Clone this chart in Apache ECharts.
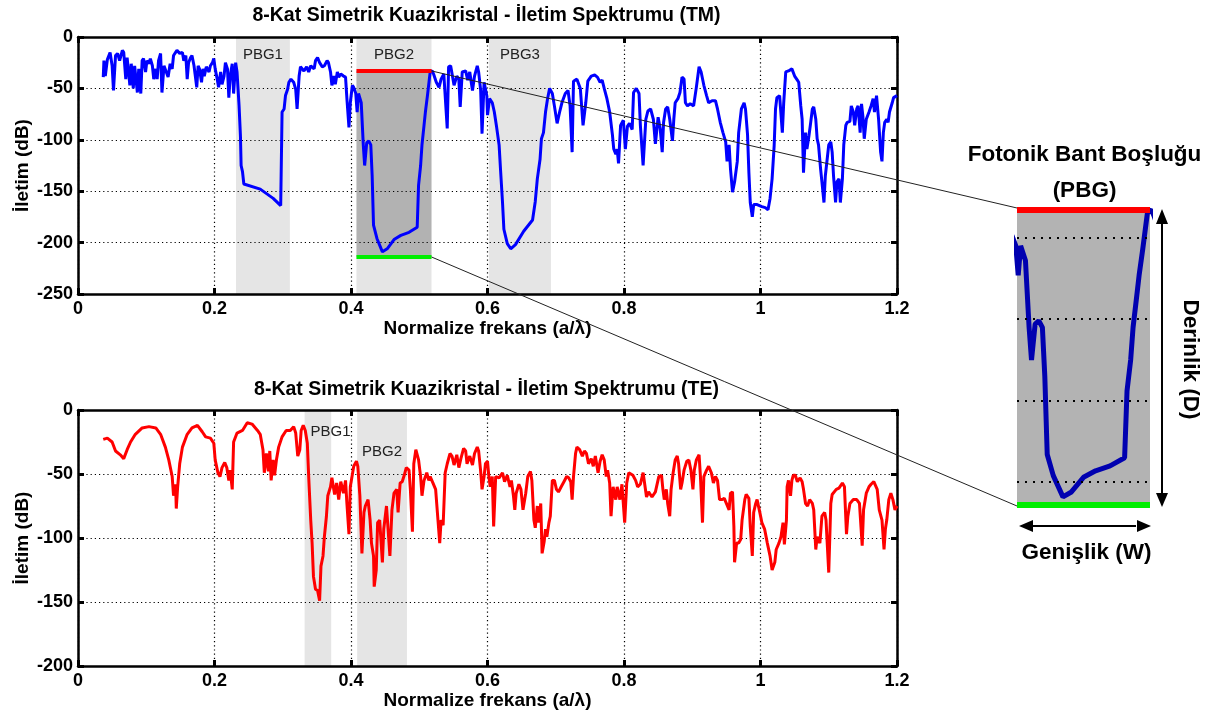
<!DOCTYPE html>
<html>
<head>
<meta charset="utf-8">
<script src="https://cdn.jsdelivr.net/npm/echarts@6/dist/echarts.min.js"></script>
<style>
html,body{margin:0;padding:0;background:#fff;}
#c{width:1217px;height:717px;}
</style>
</head>
<body>
<div id="c"></div>
<script>
// ---- data ----
const tmSpectrum = [[0.037,-39],[0.038,-23],[0.040,-38],[0.043,-22],[0.047,-15],[0.050,-28],[0.052,-52],[0.055,-18],[0.058,-16],[0.061,-23],[0.065,-13],[0.067,-15],[0.070,-41],[0.072,-20],[0.076,-47],[0.078,-26],[0.081,-50],[0.083,-28],[0.087,-54],[0.089,-31],[0.092,-55],[0.094,-23],[0.096,-21],[0.099,-34],[0.101,-23],[0.104,-26],[0.106,-21],[0.109,-28],[0.111,-41],[0.114,-31],[0.116,-41],[0.118,-23],[0.121,-16],[0.123,-54],[0.126,-28],[0.128,-29],[0.132,-39],[0.135,-26],[0.138,-31],[0.140,-18],[0.143,-15],[0.145,-13],[0.149,-16],[0.153,-15],[0.155,-23],[0.158,-18],[0.160,-41],[0.162,-25],[0.165,-20],[0.167,-18],[0.170,-28],[0.174,-49],[0.176,-28],[0.178,-31],[0.181,-44],[0.183,-31],[0.185,-38],[0.188,-29],[0.192,-34],[0.194,-28],[0.197,-25],[0.199,-21],[0.201,-31],[0.204,-41],[0.206,-49],[0.209,-34],[0.211,-46],[0.214,-38],[0.216,-25],[0.219,-31],[0.221,-59],[0.223,-38],[0.226,-26],[0.228,-55],[0.231,-25],[0.233,-34],[0.236,-67],[0.238,-96],[0.239,-125],[0.241,-131],[0.243,-143],[0.267,-148],[0.286,-157],[0.297,-164],[0.299,-73],[0.302,-70],[0.304,-57],[0.307,-51],[0.309,-44],[0.312,-41],[0.316,-44],[0.319,-51],[0.321,-70],[0.324,-38],[0.326,-29],[0.331,-33],[0.335,-29],[0.338,-34],[0.341,-28],[0.346,-31],[0.348,-23],[0.351,-20],[0.354,-25],[0.358,-29],[0.361,-28],[0.365,-23],[0.367,-25],[0.370,-34],[0.372,-47],[0.375,-38],[0.377,-46],[0.380,-34],[0.382,-39],[0.385,-36],[0.389,-38],[0.392,-39],[0.394,-60],[0.397,-88],[0.399,-64],[0.402,-47],[0.404,-49],[0.407,-55],[0.409,-73],[0.411,-55],[0.415,-64],[0.418,-105],[0.420,-125],[0.423,-103],[0.426,-101],[0.429,-105],[0.431,-135],[0.433,-183],[0.438,-196],[0.446,-209],[0.453,-206],[0.463,-197],[0.473,-193],[0.485,-190],[0.497,-185],[0.499,-144],[0.502,-125],[0.504,-105],[0.507,-86],[0.509,-73],[0.512,-57],[0.516,-34],[0.519,-33],[0.521,-36],[0.525,-44],[0.529,-49],[0.532,-41],[0.536,-36],[0.541,-89],[0.543,-29],[0.546,-28],[0.551,-47],[0.555,-38],[0.558,-41],[0.560,-68],[0.563,-34],[0.568,-33],[0.571,-42],[0.574,-34],[0.578,-52],[0.581,-38],[0.585,-28],[0.587,-34],[0.590,-52],[0.592,-94],[0.595,-44],[0.599,-57],[0.600,-76],[0.603,-60],[0.607,-64],[0.610,-73],[0.613,-86],[0.617,-105],[0.619,-128],[0.622,-161],[0.624,-187],[0.629,-201],[0.634,-206],[0.641,-202],[0.653,-189],[0.666,-178],[0.670,-160],[0.673,-138],[0.677,-119],[0.679,-99],[0.682,-93],[0.685,-73],[0.688,-60],[0.691,-50],[0.695,-55],[0.698,-67],[0.702,-84],[0.706,-72],[0.709,-64],[0.714,-55],[0.718,-52],[0.721,-67],[0.724,-112],[0.726,-43],[0.731,-41],[0.736,-50],[0.740,-86],[0.744,-64],[0.747,-43],[0.752,-38],[0.757,-37],[0.761,-39],[0.765,-44],[0.768,-42],[0.771,-50],[0.775,-60],[0.779,-73],[0.783,-95],[0.785,-109],[0.788,-114],[0.790,-109],[0.792,-123],[0.795,-86],[0.799,-81],[0.802,-109],[0.805,-87],[0.808,-84],[0.812,-90],[0.814,-54],[0.818,-50],[0.822,-55],[0.824,-86],[0.828,-125],[0.832,-80],[0.835,-72],[0.839,-70],[0.843,-80],[0.846,-104],[0.850,-78],[0.853,-89],[0.856,-112],[0.858,-83],[0.861,-70],[0.864,-68],[0.867,-80],[0.871,-101],[0.873,-80],[0.875,-64],[0.879,-60],[0.882,-54],[0.885,-39],[0.888,-41],[0.890,-64],[0.893,-67],[0.897,-65],[0.902,-67],[0.906,-49],[0.910,-29],[0.913,-34],[0.917,-47],[0.921,-57],[0.924,-64],[0.929,-62],[0.934,-62],[0.937,-70],[0.941,-83],[0.945,-93],[0.949,-102],[0.951,-121],[0.954,-105],[0.956,-128],[0.959,-151],[0.962,-141],[0.966,-121],[0.968,-93],[0.972,-70],[0.976,-64],[0.978,-70],[0.981,-95],[0.983,-132],[0.985,-161],[0.988,-175],[0.990,-163],[0.995,-163],[1.002,-165],[1.007,-166],[1.011,-168],[1.014,-157],[1.017,-138],[1.020,-106],[1.022,-70],[1.024,-59],[1.028,-57],[1.032,-93],[1.034,-64],[1.037,-34],[1.041,-33],[1.046,-31],[1.050,-38],[1.054,-42],[1.056,-44],[1.059,-67],[1.061,-80],[1.063,-132],[1.066,-93],[1.068,-109],[1.071,-96],[1.073,-86],[1.076,-70],[1.078,-68],[1.081,-80],[1.083,-99],[1.085,-105],[1.088,-128],[1.090,-141],[1.093,-161],[1.095,-135],[1.098,-117],[1.100,-105],[1.103,-102],[1.105,-112],[1.107,-135],[1.110,-161],[1.112,-141],[1.115,-138],[1.117,-161],[1.120,-138],[1.122,-105],[1.125,-86],[1.127,-83],[1.131,-82],[1.133,-67],[1.136,-73],[1.138,-86],[1.141,-70],[1.143,-67],[1.146,-93],[1.148,-65],[1.150,-77],[1.152,-99],[1.155,-80],[1.159,-73],[1.162,-67],[1.165,-60],[1.167,-73],[1.170,-57],[1.173,-80],[1.176,-112],[1.178,-121],[1.180,-93],[1.182,-83],[1.185,-80],[1.187,-83],[1.189,-73],[1.193,-64],[1.195,-59],[1.200,-57]];

const teSpectrum = [[0.037,-23],[0.043,-22],[0.050,-25],[0.055,-32],[0.062,-35],[0.067,-38],[0.072,-31],[0.077,-25],[0.084,-19],[0.094,-14],[0.104,-13],[0.114,-14],[0.121,-19],[0.128,-29],[0.133,-39],[0.138,-52],[0.140,-67],[0.143,-58],[0.144,-77],[0.146,-60],[0.149,-42],[0.153,-29],[0.160,-19],[0.167,-14],[0.175,-12],[0.182,-17],[0.187,-21],[0.194,-22],[0.199,-26],[0.201,-39],[0.205,-49],[0.208,-52],[0.211,-45],[0.215,-41],[0.218,-45],[0.221,-55],[0.223,-47],[0.226,-62],[0.228,-25],[0.233,-18],[0.241,-16],[0.248,-10],[0.255,-11],[0.263,-16],[0.267,-19],[0.271,-31],[0.273,-49],[0.276,-34],[0.279,-48],[0.281,-32],[0.283,-55],[0.286,-39],[0.288,-51],[0.291,-38],[0.294,-29],[0.299,-21],[0.305,-16],[0.311,-16],[0.316,-13],[0.319,-18],[0.322,-36],[0.325,-31],[0.327,-16],[0.330,-12],[0.333,-16],[0.336,-26],[0.338,-52],[0.341,-86],[0.343,-104],[0.345,-130],[0.348,-140],[0.351,-141],[0.354,-149],[0.356,-122],[0.359,-114],[0.361,-99],[0.364,-83],[0.366,-67],[0.370,-60],[0.372,-53],[0.376,-66],[0.379,-57],[0.382,-70],[0.385,-56],[0.389,-65],[0.392,-55],[0.394,-73],[0.397,-97],[0.399,-60],[0.404,-44],[0.408,-40],[0.410,-44],[0.413,-67],[0.416,-112],[0.419,-80],[0.421,-75],[0.425,-70],[0.428,-86],[0.430,-104],[0.433,-114],[0.434,-138],[0.437,-125],[0.439,-88],[0.442,-86],[0.446,-119],[0.448,-93],[0.452,-75],[0.454,-75],[0.457,-114],[0.460,-78],[0.463,-65],[0.467,-62],[0.469,-80],[0.472,-57],[0.475,-56],[0.478,-51],[0.481,-45],[0.485,-47],[0.487,-62],[0.490,-95],[0.492,-42],[0.495,-31],[0.497,-30],[0.499,-39],[0.502,-52],[0.504,-67],[0.507,-55],[0.511,-49],[0.514,-55],[0.516,-52],[0.520,-57],[0.524,-62],[0.527,-83],[0.530,-104],[0.532,-86],[0.535,-90],[0.538,-49],[0.541,-42],[0.545,-34],[0.548,-36],[0.551,-43],[0.555,-35],[0.558,-45],[0.561,-38],[0.565,-30],[0.568,-32],[0.570,-42],[0.574,-36],[0.578,-43],[0.581,-34],[0.585,-29],[0.587,-32],[0.590,-48],[0.592,-62],[0.595,-52],[0.597,-42],[0.600,-40],[0.602,-52],[0.604,-60],[0.607,-52],[0.609,-91],[0.612,-52],[0.617,-53],[0.622,-49],[0.625,-56],[0.629,-51],[0.633,-60],[0.635,-55],[0.638,-67],[0.640,-78],[0.642,-65],[0.646,-58],[0.649,-62],[0.652,-78],[0.656,-65],[0.659,-52],[0.663,-48],[0.665,-55],[0.668,-86],[0.670,-92],[0.673,-75],[0.675,-88],[0.678,-73],[0.680,-112],[0.683,-103],[0.685,-93],[0.687,-99],[0.690,-88],[0.692,-83],[0.695,-55],[0.698,-55],[0.701,-62],[0.704,-64],[0.708,-60],[0.712,-56],[0.716,-52],[0.719,-53],[0.722,-56],[0.724,-70],[0.726,-52],[0.729,-34],[0.731,-29],[0.735,-31],[0.739,-36],[0.742,-32],[0.745,-34],[0.748,-42],[0.752,-38],[0.755,-44],[0.758,-36],[0.762,-49],[0.765,-40],[0.768,-35],[0.771,-39],[0.774,-52],[0.776,-47],[0.779,-57],[0.781,-83],[0.784,-60],[0.788,-70],[0.790,-60],[0.794,-70],[0.797,-58],[0.801,-88],[0.804,-57],[0.807,-49],[0.813,-51],[0.817,-55],[0.820,-60],[0.824,-58],[0.828,-49],[0.830,-48],[0.833,-68],[0.836,-64],[0.841,-68],[0.846,-64],[0.851,-52],[0.855,-51],[0.857,-62],[0.859,-70],[0.862,-62],[0.864,-73],[0.867,-83],[0.869,-62],[0.872,-49],[0.875,-39],[0.878,-36],[0.880,-42],[0.883,-62],[0.885,-57],[0.888,-47],[0.892,-40],[0.895,-39],[0.898,-47],[0.901,-62],[0.903,-47],[0.906,-39],[0.910,-35],[0.912,-52],[0.915,-88],[0.917,-52],[0.921,-47],[0.924,-44],[0.928,-49],[0.931,-57],[0.934,-52],[0.937,-55],[0.940,-70],[0.944,-70],[0.947,-69],[0.950,-73],[0.954,-78],[0.956,-65],[0.959,-64],[0.961,-91],[0.962,-119],[0.965,-104],[0.968,-104],[0.971,-101],[0.973,-86],[0.977,-70],[0.979,-66],[0.983,-69],[0.985,-91],[0.988,-114],[0.990,-80],[0.993,-73],[0.995,-70],[0.999,-80],[1.002,-88],[1.006,-93],[1.010,-104],[1.014,-114],[1.017,-125],[1.021,-119],[1.023,-109],[1.027,-104],[1.030,-99],[1.033,-88],[1.035,-105],[1.038,-86],[1.039,-60],[1.041,-55],[1.044,-67],[1.046,-55],[1.048,-51],[1.051,-51],[1.054,-56],[1.058,-53],[1.061,-56],[1.063,-62],[1.066,-73],[1.069,-75],[1.072,-70],[1.076,-73],[1.078,-78],[1.081,-109],[1.083,-99],[1.087,-104],[1.090,-83],[1.094,-80],[1.096,-86],[1.100,-127],[1.103,-73],[1.105,-66],[1.107,-67],[1.111,-62],[1.115,-61],[1.120,-57],[1.123,-60],[1.126,-97],[1.128,-83],[1.131,-73],[1.136,-70],[1.141,-70],[1.145,-73],[1.149,-106],[1.151,-78],[1.155,-65],[1.159,-60],[1.162,-58],[1.166,-56],[1.168,-55],[1.171,-62],[1.174,-78],[1.178,-86],[1.181,-109],[1.183,-93],[1.185,-86],[1.188,-70],[1.191,-65],[1.194,-70],[1.197,-78],[1.200,-75]];

const tmBands = [[0.2315, 0.3105, 'PBG1'], [0.408, 0.518, 'PBG2'], [0.602, 0.693, 'PBG3']];
const teBands = [[0.332, 0.371, 'PBG1'], [0.409, 0.482, 'PBG2']];
const pbgFreq = [0.408, 0.518];      // width of the highlighted gap (TM PBG2)
const pbgDepth = [-33, -214];        // top (red) and bottom (green) levels
const insetTicks = [-50, -100, -150, -200];
const xTicks = { min: 0, max: 1.2, interval: 0.2 };
const tmY = { min: -250, max: 0, interval: 50 };
const teY = { min: -200, max: 0, interval: 50 };

const titleTM = '8-Kat Simetrik Kuazikristal - İletim Spektrumu (TM)';
const titleTE = '8-Kat Simetrik Kuazikristal - İletim Spektrumu (TE)';
const xName = 'Normalize frekans (a/λ)';
const yName = 'İletim (dB)';

// ---- chart ----
const FONT = '"Liberation Sans", Arial, sans-serif';
const chart = echarts.init(document.getElementById('c'), null, { renderer: 'canvas' });

const dotted = { show: true, lineStyle: { color: '#000', width: 1.2, type: [1.2, 3] } };
const nameStyle = { color: '#000', fontFamily: FONT, fontWeight: 'bold', fontSize: 19 };
function mainX(grid) {
  return [{
    gridIndex: grid, type: 'value', ...xTicks, position: 'bottom',
    axisLine: { onZero: false, lineStyle: { color: '#000', width: 2.5 } },
    axisTick: { inside: true, length: 6, lineStyle: { color: '#000', width: 3 } },
    axisLabel: { color: '#000', fontFamily: FONT, fontWeight: 'bold', fontSize: 18, margin: 6 },
    splitLine: dotted,
    name: xName, nameLocation: 'middle', nameGap: 25, nameMoveOverlap: false, nameTextStyle: nameStyle
  }, {
    gridIndex: grid, type: 'value', ...xTicks, position: 'top',
    axisLine: { onZero: false, lineStyle: { color: '#000', width: 2.5 } },
    axisTick: { inside: true, length: 6, lineStyle: { color: '#000', width: 3 } },
    axisLabel: { show: false }, splitLine: { show: false }
  }];
}
function mainY(grid, rng) {
  return [{
    gridIndex: grid, type: 'value', ...rng, position: 'left',
    axisLine: { show: true, onZero: false, lineStyle: { color: '#000', width: 2.5 } },
    axisTick: { show: true, inside: true, length: 6, lineStyle: { color: '#000', width: 3 } },
    axisLabel: { color: '#000', fontFamily: FONT, fontWeight: 'bold', fontSize: 18, margin: 5 },
    splitLine: dotted,
    name: yName, nameLocation: 'middle', nameGap: 46, nameMoveOverlap: false, nameRotate: 90, nameTextStyle: nameStyle
  }, {
    gridIndex: grid, type: 'value', ...rng, position: 'right',
    axisLine: { show: true, onZero: false, lineStyle: { color: '#000', width: 2.5 } },
    axisTick: { show: true, inside: true, length: 6, lineStyle: { color: '#000', width: 3 } },
    axisLabel: { show: false }, splitLine: { show: false }
  }];
}

const bandLabel = { show: true, position: 'insideTop', distance: 10, color: '#222', fontFamily: FONT, fontSize: 15 };

const option = {
  animation: false,
  backgroundColor: '#fff',
  grid: [
    { left: 78, top: 37, width: 819, height: 257 },
    { left: 78, top: 410, width: 819, height: 256 },
    { left: 1017, top: 210, width: 133, height: 295, show: true, backgroundColor: '#b3b3b3', borderWidth: 0 }
  ],
  xAxis: [
    ...mainX(0), ...mainX(1),
    { gridIndex: 2, type: 'value', min: pbgFreq[0], max: pbgFreq[1], show: false }
  ],
  yAxis: [
    ...mainY(0, tmY), ...mainY(1, teY),
    { gridIndex: 2, type: 'value', min: pbgDepth[1], max: pbgDepth[0], show: false }
  ],
  series: [
    {
      type: 'line', xAxisIndex: 0, yAxisIndex: 0, data: [], z: 1,
      markArea: {
        silent: true,
        itemStyle: { color: 'rgba(0,0,0,0.1)' },
        label: bandLabel,
        data: tmBands.map(b => [{ xAxis: b[0], name: b[2] }, { xAxis: b[1] }])
      }
    },
    {
      type: 'line', xAxisIndex: 0, yAxisIndex: 0, data: tmSpectrum, z: 3,
      symbol: 'none', lineStyle: { color: '#0000ff', width: 3 }, itemStyle: { color: '#0000ff' }
    },
    {
      type: 'line', xAxisIndex: 0, yAxisIndex: 0, data: [], z: 4,
      markArea: {
        silent: true,
        itemStyle: { color: 'rgba(0,0,0,0.22)' },
        data: [[{ coord: [pbgFreq[0], pbgDepth[0]] }, { coord: [pbgFreq[1], pbgDepth[1]] }]]
      },
      markLine: {
        silent: true, symbol: 'none', label: { show: false },
        data: [
          [{ coord: [pbgFreq[0], pbgDepth[0]], lineStyle: { color: '#ff0000', width: 4, type: 'solid' } }, { coord: [pbgFreq[1], pbgDepth[0]] }],
          [{ coord: [pbgFreq[0], pbgDepth[1]], lineStyle: { color: '#00ee00', width: 4, type: 'solid' } }, { coord: [pbgFreq[1], pbgDepth[1]] }]
        ]
      }
    },
    {
      type: 'line', xAxisIndex: 2, yAxisIndex: 2, data: [], z: 1,
      markArea: {
        silent: true,
        itemStyle: { color: 'rgba(0,0,0,0.1)' },
        data: [
          [{ xAxis: teBands[0][0], name: teBands[0][2], label: { show: true, position: 'insideTopLeft', distance: 6, offset: [0, 8], color: '#222', fontFamily: FONT, fontSize: 15 } }, { xAxis: teBands[0][1] }],
          [{ xAxis: teBands[1][0], name: teBands[1][2], label: { show: true, position: 'insideTop', distance: 34, color: '#222', fontFamily: FONT, fontSize: 15 } }, { xAxis: teBands[1][1] }]
        ]
      }
    },
    {
      type: 'line', xAxisIndex: 2, yAxisIndex: 2, data: teSpectrum, z: 3,
      symbol: 'none', lineStyle: { color: '#ff0000', width: 3 }, itemStyle: { color: '#ff0000' }
    },
    {
      type: 'line', xAxisIndex: 4, yAxisIndex: 4, data: [], z: 2,
      markLine: {
        silent: true, symbol: 'none', label: { show: false },
        lineStyle: { color: '#000', width: 2, type: [2, 6] },
        data: insetTicks.map(v => ({ yAxis: v }))
      }
    },
    {
      type: 'line', xAxisIndex: 4, yAxisIndex: 4, data: tmSpectrum, z: 3, clip: true,
      symbol: 'none', lineStyle: { color: '#0000b0', width: 5 }, itemStyle: { color: '#0000b0' }
    },
    {
      type: 'line', xAxisIndex: 4, yAxisIndex: 4, data: [], z: 5,
      markLine: {
        silent: true, symbol: 'none', label: { show: false },
        data: [
          [{ coord: [pbgFreq[0], pbgDepth[0]], lineStyle: { color: '#ff0000', width: 6, type: 'solid' } }, { coord: [pbgFreq[1], pbgDepth[0]] }],
          [{ coord: [pbgFreq[0], pbgDepth[1]], lineStyle: { color: '#00ee00', width: 6, type: 'solid' } }, { coord: [pbgFreq[1], pbgDepth[1]] }]
        ]
      }
    }
  ]
};
chart.setOption(option);

// ---- annotations positioned from the coordinate systems ----
const gTopR = chart.convertToPixel({ gridIndex: 0 }, [pbgFreq[1], pbgDepth[0]]);
const gBotR = chart.convertToPixel({ gridIndex: 0 }, [pbgFreq[1], pbgDepth[1]]);
const iTL = chart.convertToPixel({ gridIndex: 2 }, [pbgFreq[0], pbgDepth[0]]);
const iBR = chart.convertToPixel({ gridIndex: 2 }, [pbgFreq[1], pbgDepth[1]]);
const iBL = [iTL[0], iBR[1]];
const g0a = chart.convertToPixel({ gridIndex: 0 }, [0, 0]);
const g0b = chart.convertToPixel({ gridIndex: 0 }, [1.2, -250]);
const g1a = chart.convertToPixel({ gridIndex: 1 }, [0, 0]);
const cx = (g0a[0] + g0b[0]) / 2;
const ix = (iTL[0] + iBR[0]) / 2;

const txt = (x, y, s, size, extra) => Object.assign({
  type: 'text', x: x, y: y, z: 20,
  style: { text: s, fill: '#000', font: 'bold ' + size + 'px ' + FONT, textAlign: 'center', textVerticalAlign: 'middle' }
}, extra || {});

const ax = iBR[0] + 12;
const ay = iBR[1] + 21;
const head = 6, hl = 14;

chart.setOption({
  graphic: [
    { type: 'line', z: 15, shape: { x1: gTopR[0], y1: gTopR[1], x2: iTL[0], y2: iTL[1] - 2 }, style: { stroke: '#222', lineWidth: 1 } },
    { type: 'line', z: 15, shape: { x1: gBotR[0], y1: gBotR[1], x2: iBL[0], y2: iBL[1] + 1 }, style: { stroke: '#222', lineWidth: 1 } },
    txt(cx - 1, g0a[1] - 21, titleTM, 19.5),
    txt(cx - 1, g1a[1] - 20, titleTE, 19.5),
    txt(ix + 1, iTL[1] - 55, 'Fotonik Bant Boşluğu', 22.5),
    txt(ix + 1, iTL[1] - 19, '(PBG)', 22.5),
    txt(ix + 3, iBR[1] + 48, 'Genişlik (W)', 22.5),
    txt(ax + 28, (iTL[1] + iBR[1]) / 2 + 2, 'Derinlik (D)', 22.5, { rotation: -Math.PI / 2 }),
    { type: 'line', z: 15, shape: { x1: ax, y1: iTL[1] + hl - 2, x2: ax, y2: iBR[1] - hl + 2 }, style: { stroke: '#000', lineWidth: 2 } },
    { type: 'polygon', z: 15, shape: { points: [[ax, iTL[1] - 1], [ax - head, iTL[1] + hl], [ax + head, iTL[1] + hl]] }, style: { fill: '#000' } },
    { type: 'polygon', z: 15, shape: { points: [[ax, iBR[1] + 2], [ax - head, iBR[1] - hl + 2], [ax + head, iBR[1] - hl + 2]] }, style: { fill: '#000' } },
    { type: 'line', z: 15, shape: { x1: iTL[0] + hl, y1: ay, x2: iBR[0] - hl, y2: ay }, style: { stroke: '#000', lineWidth: 2 } },
    { type: 'polygon', z: 15, shape: { points: [[iTL[0] + 2, ay], [iTL[0] + 2 + hl, ay - head], [iTL[0] + 2 + hl, ay + head]] }, style: { fill: '#000' } },
    { type: 'polygon', z: 15, shape: { points: [[iBR[0] + 1, ay], [iBR[0] + 1 - hl, ay - head], [iBR[0] + 1 - hl, ay + head]] }, style: { fill: '#000' } }
  ]
});
</script>
</body>
</html>
